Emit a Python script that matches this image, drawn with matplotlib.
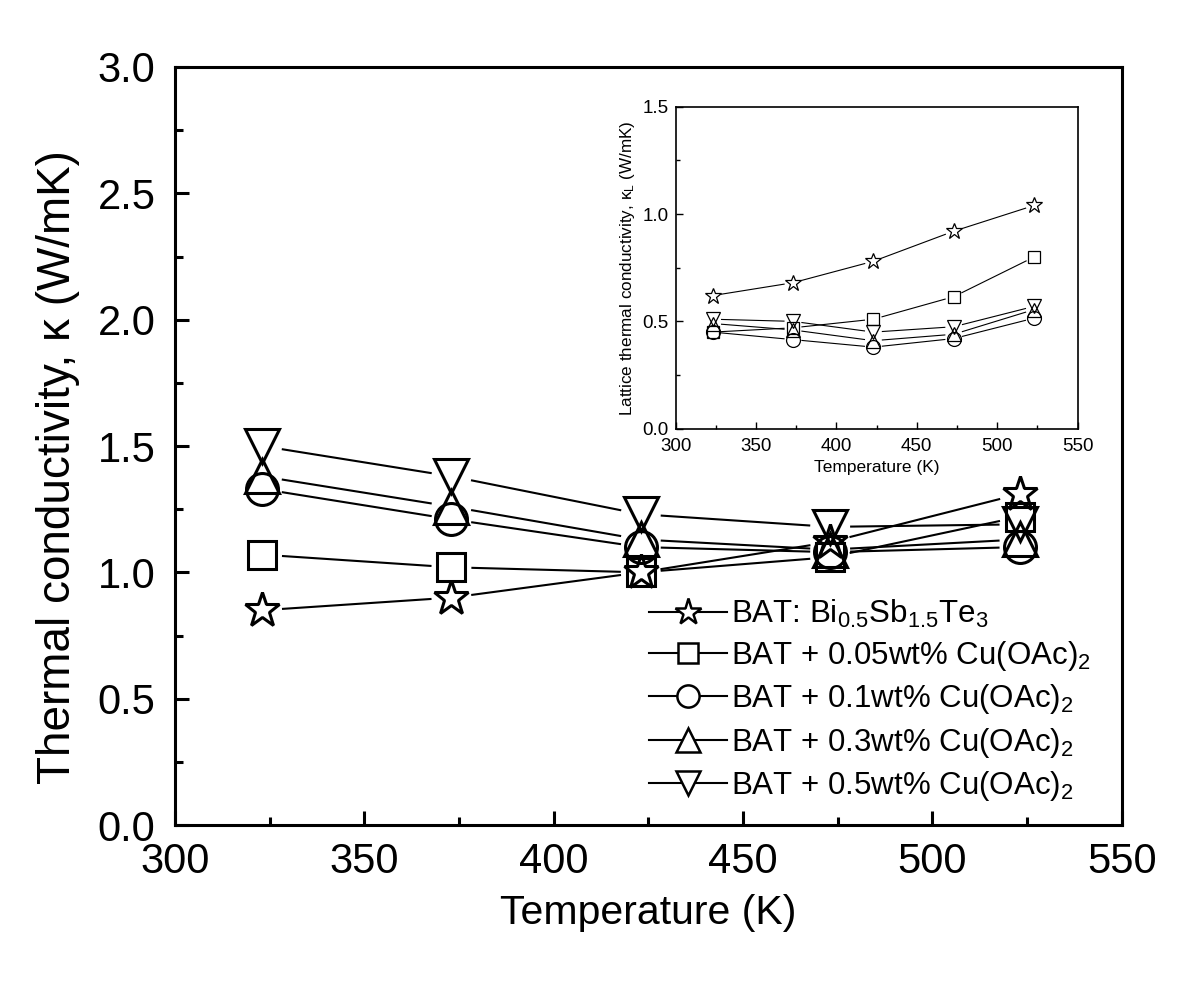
import numpy as np
import matplotlib.pyplot as plt
from matplotlib.ticker import MultipleLocator
from matplotlib.lines import Line2D

plt.rcParams['font.family'] = ['Liberation Sans', 'DejaVu Sans']
plt.rcParams['mathtext.fontset'] = 'custom'
plt.rcParams['mathtext.rm'] = 'Liberation Sans'
plt.rcParams['mathtext.it'] = 'Liberation Sans'

temps = [323, 373, 423, 473, 523]

labels = [
    r'BAT: Bi$_{0.5}$Sb$_{1.5}$Te$_{3}$',
    r'BAT + 0.05wt% Cu(OAc)$_{2}$',
    r'BAT + 0.1wt% Cu(OAc)$_{2}$',
    r'BAT + 0.3wt% Cu(OAc)$_{2}$',
    r'BAT + 0.5wt% Cu(OAc)$_{2}$',
]
markers = ['*', 's', 'o', '^', 'v']

# total thermal conductivity (main plot)
k_bat = [0.85, 0.90, 1.00, 1.12, 1.31]
k_005 = [1.07, 1.02, 1.00, 1.06, 1.22]
k_01 = [1.33, 1.21, 1.10, 1.08, 1.10]
k_03 = [1.38, 1.26, 1.13, 1.09, 1.13]
k_05 = [1.50, 1.38, 1.23, 1.18, 1.19]

# lattice thermal conductivity (inset)
kl_bat = [0.62, 0.68, 0.78, 0.92, 1.04]
kl_005 = [0.45, 0.47, 0.51, 0.615, 0.80]
kl_01 = [0.45, 0.415, 0.38, 0.42, 0.515]
kl_03 = [0.49, 0.46, 0.41, 0.44, 0.555]
kl_05 = [0.51, 0.50, 0.45, 0.475, 0.57]

main_series = [k_bat, k_005, k_01, k_03, k_05]
inset_series = [kl_bat, kl_005, kl_01, kl_03, kl_05]


def gapped_line(ax, x, y, gap, lw):
    # Origin-style: line segments stop short of the symbols
    pts = ax.transData.transform(np.column_stack([x, y]))
    inv = ax.transData.inverted()
    for p0, p1 in zip(pts[:-1], pts[1:]):
        d = p1 - p0
        L = np.hypot(*d)
        if L <= 2 * gap:
            continue
        u = d / L
        a = inv.transform(p0 + u * gap)
        b = inv.transform(p1 - u * gap)
        ax.plot([a[0], b[0]], [a[1], b[1]], color='black', lw=lw)


fig = plt.figure(figsize=(12, 9.97), dpi=100)
ax = fig.add_axes([0.1458, 0.1725, 0.789, 0.7603])
ax.set_xlim(300, 550)
ax.set_ylim(0, 3.0)

sizes = {'*': 26, 's': 20, 'o': 23, '^': 24, 'v': 24}
for y, m in zip(main_series, markers):
    gapped_line(ax, temps, y, 21, 1.5)
    ax.plot(temps, y, ls='none', marker=m, markersize=sizes[m],
            markerfacecolor='none', markeredgecolor='black',
            markeredgewidth=2.2)

ax.xaxis.set_major_locator(MultipleLocator(50))
ax.xaxis.set_minor_locator(MultipleLocator(25))
ax.yaxis.set_major_locator(MultipleLocator(0.5))
ax.yaxis.set_minor_locator(MultipleLocator(0.25))
ax.yaxis.set_major_formatter(plt.FormatStrFormatter('%.1f'))
ax.tick_params(which='both', direction='in', width=2.2, labelsize=30)
ax.tick_params(axis='x', pad=12)
ax.tick_params(axis='y', pad=14)
ax.tick_params(which='major', length=10)
ax.tick_params(which='minor', length=6)
for s in ax.spines.values():
    s.set_linewidth(2.2)
ax.set_xlabel('Temperature (K)', fontsize=29.5, labelpad=9)
ax.set_ylabel(u'Thermal conductivity, \u03ba (W/mK)', fontsize=33)
ax.yaxis.set_label_coords(-0.100, 0.472)

leg_sizes = {'*': 20, 's': 15, 'o': 16, '^': 17, 'v': 17}
leg_handles = [Line2D([], [], color='black', lw=1.5, marker=m,
                      markersize=leg_sizes[m], markerfacecolor='white',
                      markeredgewidth=1.8)
               for m in markers]
ax.legend(leg_handles, labels, loc='lower right', frameon=False,
          fontsize=22.5, handlelength=2.5, labelspacing=0.3,
          bbox_to_anchor=(0.99, 0.0), borderaxespad=0.3, handletextpad=0.1)

# inset
ins = fig.add_axes([0.563, 0.570, 0.335, 0.323])
ins.set_xlim(300, 550)
ins.set_ylim(0, 1.5)
ins_sizes = {'*': 12, 's': 9, 'o': 10, '^': 10, 'v': 10}
for y, m in zip(inset_series, markers):
    gapped_line(ins, temps, y, 9, 0.8)
    ins.plot(temps, y, ls='none', marker=m, markersize=ins_sizes[m],
             markerfacecolor='none', markeredgecolor='black',
             markeredgewidth=0.9)
ins.xaxis.set_major_locator(MultipleLocator(50))
ins.xaxis.set_minor_locator(MultipleLocator(25))
ins.yaxis.set_major_locator(MultipleLocator(0.5))
ins.yaxis.set_minor_locator(MultipleLocator(0.25))
ins.yaxis.set_major_formatter(plt.FormatStrFormatter('%.1f'))
ins.tick_params(which='both', direction='in', width=1, labelsize=13.5)
ins.tick_params(axis='x', pad=7)
ins.tick_params(axis='y', pad=5)
ins.tick_params(which='major', length=5)
ins.tick_params(which='minor', length=3)
for s in ins.spines.values():
    s.set_linewidth(1.2)
ins.set_xlabel('Temperature (K)', fontsize=12.5, labelpad=3)
ins.set_ylabel(u'Lattice thermal conductivity, \u03ba$_{L}$ (W/mK)',
               fontsize=12.3, labelpad=4)

fig.savefig('out.png', dpi=100)
